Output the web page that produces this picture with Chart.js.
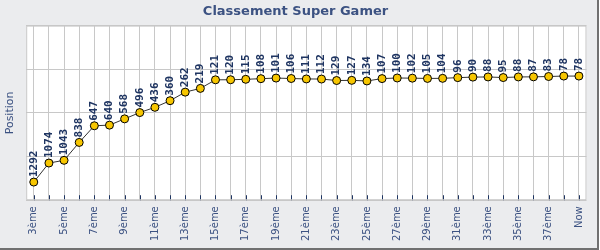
<!DOCTYPE html>
<html>
<head>
<meta charset="utf-8">
<script src="https://cdn.jsdelivr.net/npm/chart.js@4.4.1/dist/chart.umd.min.js"></script>
<style>
  body { margin: 0; background: #fff; }
  #cadre {
    width: 597px; height: 248px;
    background: #ebecee;
    border-right: 2px solid #707070;
    border-bottom: 2px solid #707070;
  }
</style>
</head>
<body>
<div id="cadre"><canvas id="graphique" width="597" height="248"></canvas></div>
<script>
// semaines: 3ème .. 38ème puis "Now"
const semaines = [];
for (let s = 3; s <= 38; s++) semaines.push(s + "ème");
semaines.push("Now");

const positions = [
  1292, 1074, 1043, 838, 647, 640, 568, 496, 436, 360, 262, 219,
  121, 120, 115, 108, 101, 106, 111, 112, 129, 127, 134, 107,
  100, 102, 105, 104, 96, 90, 88, 95, 88, 87, 83, 78, 78
];

const bleuTexte = "#3c5282";
const bleuFonce = "#1e3461";

// fond blanc + petites graduations internes + valeurs au-dessus des points
const decorPlugin = {
  id: "decor",
  beforeDraw(chart) {
    const { ctx, chartArea: a } = chart;
    ctx.save();
    ctx.fillStyle = "#ffffff";
    ctx.fillRect(a.left, a.top, a.right - a.left, a.bottom - a.top);
    ctx.restore();
  },
  afterDatasetsDraw(chart) {
    const { ctx, chartArea: a } = chart;
    const x = chart.scales.x;
    ctx.save();
    ctx.strokeStyle = bleuFonce;
    ctx.lineWidth = 1;
    for (let i = 0; i < semaines.length; i++) {
      const px = Math.round(x.getPixelForTick(i)) + 0.5;
      ctx.beginPath();
      ctx.moveTo(px, a.bottom - 5);
      ctx.lineTo(px, a.bottom);
      ctx.stroke();
    }
    ctx.strokeStyle = "#c6c6c6";
    ctx.strokeRect(a.left + 0.5, a.top + 0.5, a.right - a.left - 1, a.bottom - a.top - 1);

    const meta = chart.getDatasetMeta(0);
    ctx.fillStyle = bleuFonce;
    ctx.font = "bold 11px 'DejaVu Sans Mono'";
    ctx.textAlign = "left";
    ctx.textBaseline = "middle";
    meta.data.forEach((pt, i) => {
      ctx.save();
      ctx.translate(pt.x, pt.y - 5);
      ctx.rotate(-Math.PI / 2);
      ctx.fillText(String(positions[i]), 0, 0);
      ctx.restore();
    });
    ctx.restore();
  }
};

new Chart(document.getElementById("graphique"), {
  type: "line",
  data: {
    labels: semaines,
    datasets: [{
      label: "Position",
      data: positions,
      borderColor: "#333333",
      borderWidth: 1,
      pointRadius: 4,
      pointBackgroundColor: "#f7c600",
      pointBorderColor: "#000000",
      pointBorderWidth: 1,
      tension: 0
    }]
  },
  options: {
    responsive: false,
    animation: false,
    layout: { padding: { left: 0, right: 6, top: 0, bottom: 1 } },
    plugins: {
      legend: { display: false },
      tooltip: { enabled: false },
      title: {
        display: true,
        text: "Classement Super Gamer",
        color: bleuTexte,
        font: { family: "DejaVu Sans", size: 13, weight: "bold" },
        padding: { top: 4, bottom: 6 }
      }
    },
    scales: {
      x: {
        offset: true,
        grid: { color: "#c8c8c8", drawTicks: false, offset: false },
        border: { display: false },
        ticks: {
          autoSkip: false,
          minRotation: 90,
          maxRotation: 90,
          padding: 6,
          color: bleuTexte,
          font: { family: "DejaVu Sans", size: 10 },
          callback: (v, i) => (i % 2 === 0 ? semaines[i] : "")
        }
      },
      y: {
        reverse: true,
        min: -500,
        max: 1500,
        grid: { color: "#c8c8c8", drawTicks: false },
        border: { display: false },
        ticks: { display: false, stepSize: 500 },
        title: {
          display: true,
          text: "Position",
          color: bleuTexte,
          font: { family: "DejaVu Sans", size: 11 },
          padding: { top: 4, bottom: 9 }
        }
      }
    }
  },
  plugins: [decorPlugin]
});
</script>
</body>
</html>
